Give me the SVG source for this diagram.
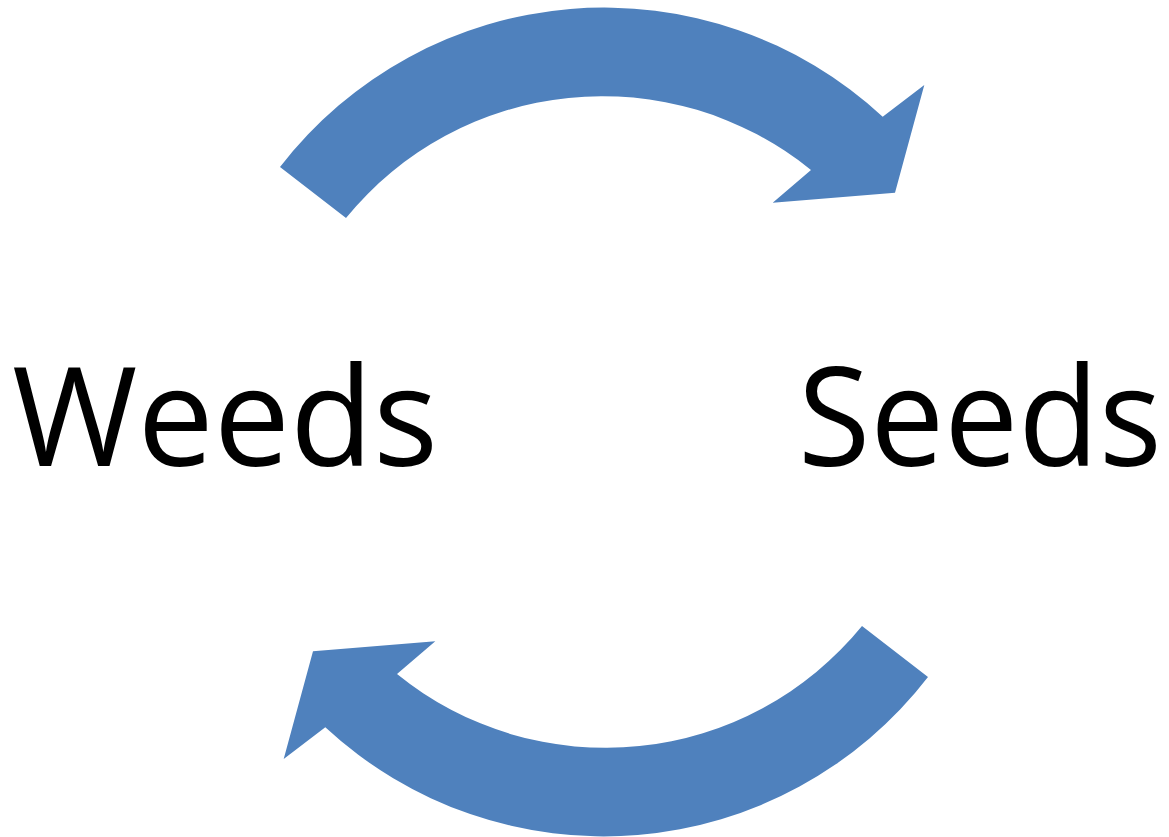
<svg xmlns="http://www.w3.org/2000/svg" width="1169" height="837" viewBox="0 0 1169 837">
<style>
.arrow{fill:#4F81BD;stroke:none}
.label{font-family:"Open Sans","Noto Sans","Liberation Sans",sans-serif;font-size:138px;fill:#000}
</style>
<defs>
<path id="curvedArrow" d="M 280,167 A 409.6 409.6 0 0 1 882.7,116.7 L 924.3,85 L 895,192.7 L 772.7,202.7 L 811,170 A 331 331 0 0 0 346,218 Z"/>
</defs>
<rect width="1169" height="837" fill="#fff"/>
<g id="connectors">
<use href="#curvedArrow" class="arrow"/>
<use href="#curvedArrow" class="arrow" transform="rotate(180 604 422)"/>
</g>
<g id="weeds"><text class="label" x="12" y="466" textLength="426" lengthAdjust="spacingAndGlyphs">Weeds</text></g>
<g id="seeds"><text class="label" transform="translate(798 466) scale(0.955 1)" x="0" y="0">Seeds</text></g>
</svg>
